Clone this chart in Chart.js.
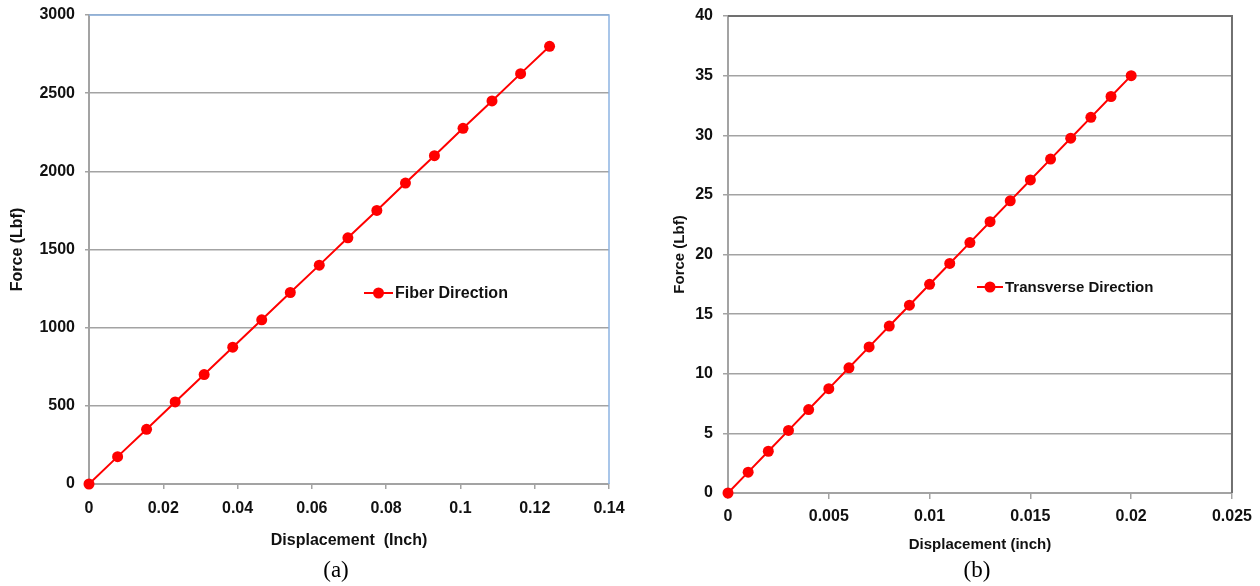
<!DOCTYPE html>
<html>
<head>
<meta charset="utf-8">
<script src="https://cdn.jsdelivr.net/npm/chart.js@4/dist/chart.umd.min.js"></script>
<style>
  body { margin: 0; background: #fff; width: 1260px; height: 586px; overflow: hidden; position: relative; }
  canvas { position: absolute; top: 0; }
  #chartA { left: 0; }
  #chartB { left: 640px; }
  .legenda { position: absolute; top: 557px; font-family: "Liberation Serif", "Times New Roman", serif; font-size: 23px; color: #000; transform: translateX(-50%); }
</style>
</head>
<body>
<canvas id="chartA" width="640" height="560"></canvas>
<canvas id="chartB" width="620" height="560"></canvas>
<div class="legenda" style="left:336px">(a)</div>
<div class="legenda" style="left:977px">(b)</div>

<script>
// (a) fiber direction
const deslocA = [0, 0.0077, 0.0155, 0.0232, 0.031, 0.0387, 0.0465, 0.0542, 0.062, 0.0697,
                 0.0775, 0.0852, 0.093, 0.1007, 0.1085, 0.1162, 0.124];
const forcaA = [0, 175, 350, 525, 700, 875, 1050, 1225, 1400, 1575,
                1750, 1925, 2100, 2275, 2450, 2625, 2800];
const ticksXA = ["0", "0.02", "0.04", "0.06", "0.08", "0.1", "0.12", "0.14"];
const ticksYA = ["0", "500", "1000", "1500", "2000", "2500", "3000"];

// (b) transverse direction
const deslocB = [0, 0.001, 0.002, 0.003, 0.004, 0.005, 0.006, 0.007, 0.008, 0.009, 0.01,
                 0.011, 0.012, 0.013, 0.014, 0.015, 0.016, 0.017, 0.018, 0.019, 0.02];
const forcaB = [0, 1.75, 3.5, 5.25, 7, 8.75, 10.5, 12.25, 14, 15.75, 17.5,
                19.25, 21, 22.75, 24.5, 26.25, 28, 29.75, 31.5, 33.25, 35];
const ticksXB = ["0", "0.005", "0.01", "0.015", "0.02", "0.025"];
const ticksYB = ["0", "5", "10", "15", "20", "25", "30", "35", "40"];

const VERMELHO = "#ff0000";
const CINZA = "#a3a3a3";
const FONTE = "'Liberation Sans', Arial, sans-serif";

// moldura de cima e da direita + legenda dentro da area
const molduraLegenda = {
    id: "molduraLegenda",
    beforeDatasetsDraw(chart, args, opts) {
        const { ctx, chartArea: a } = chart;
        ctx.save();
        ctx.strokeStyle = opts.corMoldura;
        ctx.lineWidth = opts.larguraMoldura;
        ctx.beginPath();
        ctx.moveTo(a.left, a.top);
        ctx.lineTo(a.right, a.top);
        ctx.lineTo(a.right, a.bottom);
        ctx.stroke();
        ctx.restore();
    },
    afterDatasetsDraw(chart, args, opts) {
        const { ctx } = chart;
        ctx.save();
        // legenda
        const x = opts.legX, y = opts.legY;
        ctx.strokeStyle = VERMELHO;
        ctx.lineWidth = 2;
        ctx.beginPath();
        ctx.moveTo(x, y);
        ctx.lineTo(x + opts.legLinha, y);
        ctx.stroke();
        ctx.fillStyle = VERMELHO;
        ctx.beginPath();
        ctx.arc(x + opts.legLinha / 2, y, 5.5, 0, Math.PI * 2);
        ctx.fill();
        ctx.fillStyle = "#111";
        ctx.font = "bold " + opts.legFonte + "px " + FONTE;
        ctx.textBaseline = "middle";
        ctx.textAlign = "left";
        ctx.fillText(opts.legTexto, x + opts.legLinha + 2, y + 1);
        ctx.restore();
    }
};

function criarGrafico(id, cfg) {
    const pontos = cfg.x.map((v, i) => ({ x: v, y: cfg.y[i] }));
    return new Chart(document.getElementById(id), {
        type: "line",
        data: {
            datasets: [{
                label: cfg.legTexto,
                data: pontos,
                borderColor: VERMELHO,
                backgroundColor: VERMELHO,
                borderWidth: 2,
                pointRadius: 5.5,
                pointBorderWidth: 0,
                pointBackgroundColor: VERMELHO,
                tension: 0,
                clip: false
            }]
        },
        options: {
            responsive: false,
            animation: false,
            layout: { padding: { top: cfg.topo, right: cfg.direita, left: 0, bottom: 0 } },
            plugins: {
                legend: { display: false },
                tooltip: { enabled: false },
                molduraLegenda: {
                    corMoldura: cfg.corMoldura,
                    larguraMoldura: cfg.larguraMoldura,
                    legX: cfg.legX, legY: cfg.legY, legLinha: cfg.legLinha,
                    legTexto: cfg.legTexto, legFonte: cfg.legFonte
                }
            },
            scales: {
                x: {
                    type: "linear",
                    min: 0, max: cfg.xMax,
                    afterBuildTicks: s => { s.ticks = cfg.ticksX.map(t => ({ value: parseFloat(t) })); },
                    afterFit: s => { s.height = cfg.alturaX; },
                    grid: { drawOnChartArea: false, color: CINZA, tickLength: cfg.tickX, lineWidth: 1.5 },
                    border: { color: CINZA, width: 2 },
                    ticks: {
                        padding: cfg.padX,
                        color: "#111",
                        font: { family: FONTE, size: 16, weight: "bold" },
                        maxRotation: 0,
                        callback: (v, i) => cfg.ticksX[i]
                    },
                    title: {
                        display: true,
                        text: cfg.tituloX,
                        color: "#111",
                        font: { family: FONTE, size: cfg.fonteTituloX, weight: "bold" },
                        padding: { top: 0, bottom: cfg.padTituloX }
                    }
                },
                y: {
                    min: 0, max: cfg.yMax,
                    afterBuildTicks: s => { s.ticks = cfg.ticksY.map(t => ({ value: parseFloat(t) })); },
                    afterFit: s => { s.width = cfg.larguraY; s.paddingTop = 0; s.paddingBottom = 0; },
                    grid: { color: CINZA, tickLength: cfg.tickY, lineWidth: 1.5 },
                    border: { color: CINZA, width: 2 },
                    ticks: {
                        padding: 10,
                        color: "#111",
                        font: { family: FONTE, size: 16, weight: "bold" },
                        callback: (v, i) => cfg.ticksY[i]
                    },
                    title: {
                        display: true,
                        text: "Force (Lbf)",
                        color: "#111",
                        font: { family: FONTE, size: cfg.fonteTituloY, weight: "bold" },
                        padding: { top: cfg.padTituloY, bottom: 0 }
                    }
                }
            }
        },
        plugins: [molduraLegenda]
    });
}

criarGrafico("chartA", {
    x: deslocA, y: forcaA, ticksX: ticksXA, ticksY: ticksYA,
    xMax: 0.14, yMax: 3000,
    topo: 15, direita: 31, larguraY: 89, alturaX: 76,
    tickX: 5, padX: 10, tickY: 4,
    tituloX: "Displacement  (Inch)", fonteTituloX: 16, padTituloX: 10,
    fonteTituloY: 16, padTituloY: 8,
    corMoldura: "#8db4e2", larguraMoldura: 1.5,
    legX: 364, legY: 293, legLinha: 29, legTexto: "Fiber Direction", legFonte: 16
});

criarGrafico("chartB", {
    x: deslocB, y: forcaB, ticksX: ticksXB, ticksY: ticksYB,
    xMax: 0.025, yMax: 40,
    topo: 16, direita: 27, larguraY: 88, alturaX: 67,
    tickX: 6, padX: 8, tickY: 5,
    tituloX: "Displacement (inch)", fonteTituloX: 15, padTituloX: 6,
    fonteTituloY: 15, padTituloY: 31,
    corMoldura: "#707070", larguraMoldura: 2,
    legX: 337, legY: 287, legLinha: 26, legTexto: "Transverse Direction", legFonte: 15
});
</script>
</body>
</html>
